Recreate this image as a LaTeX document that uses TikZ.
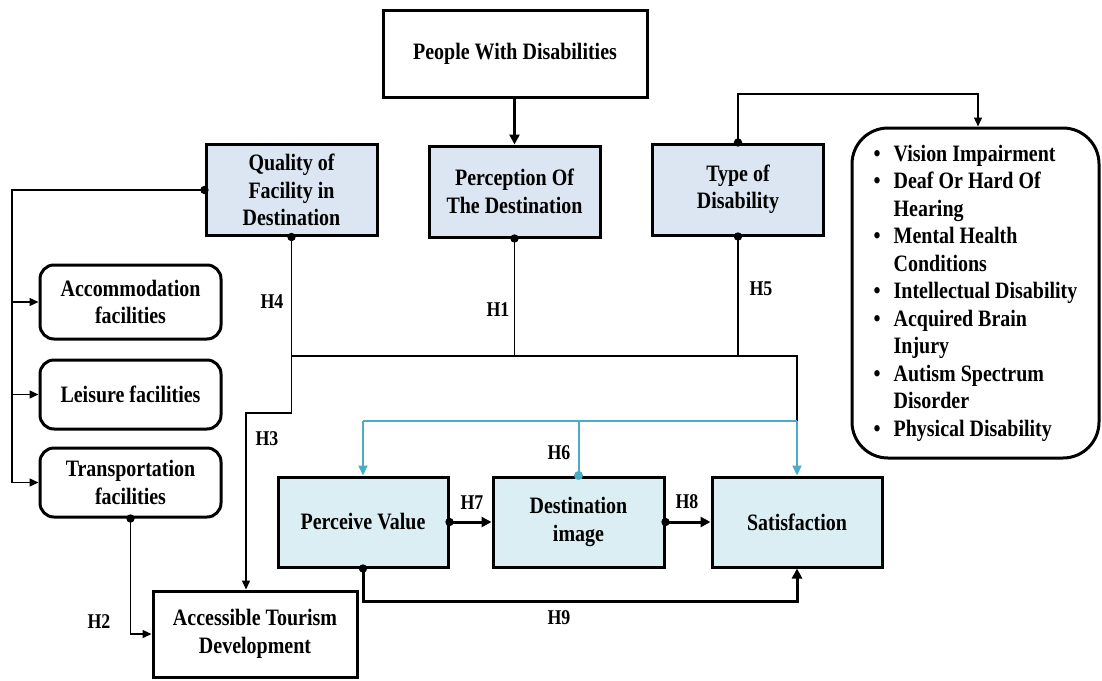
\documentclass[tikz,border=0pt]{standalone}
\usepackage{fontspec}
\setmainfont{Liberation Serif}[FakeStretch=0.85]
\usetikzlibrary{arrows.meta}
\definecolor{topfill}{HTML}{DCE6F2}
\definecolor{botfill}{HTML}{DAEEF3}
\definecolor{accent}{HTML}{4BACC6}
\tikzset{
 box/.style={draw, line width=3pt, align=center, inner sep=0pt, font=\fontsize{23.5}{27.5}\selectfont\bfseries},
 topbox/.style={box, fill=topfill, minimum width=171pt, minimum height=91pt},
 botbox/.style={box, fill=botfill, minimum width=170pt, minimum height=90pt},
 facbox/.style={box, rounded corners=14pt, minimum width=181pt},
 conn/.style={line width=1.4pt},
 arr/.style={conn, -{Triangle[length=9pt,width=8pt]}},
 tarr/.style={line width=3pt, -{Triangle[length=10pt,width=10pt]}},
 cline/.style={line width=2pt, draw=accent},
 carr/.style={cline, -{Triangle[length=10pt,width=9pt]}},
 hlab/.style={font=\fontsize{21}{24}\selectfont\bfseries, inner sep=0pt},
 dot/.style={fill=black},
}
\begin{document}
\begin{tikzpicture}[x=1pt,y=-1pt]
\useasboundingbox (0,0) rectangle (1102,680);
% nodes
\node[box, minimum width=264pt, minimum height=87pt] (pwd) at (515,53.5) {People With Disabilities};
\node[topbox] (qual) at (291.5,190) {Quality of\\Facility in\\Destination};
\node[topbox] (perc) at (514.5,191.5) {Perception Of\\The Destination};
\node[topbox] (type) at (738,189.5) {Type of\\Disability};
\node[box, rounded corners=36pt, minimum width=247pt, minimum height=330pt] (list) at (975.5,293) {%
\begin{tabular}{@{}p{20pt}@{}l@{}}
\textbullet & Vision Impairment\\
\textbullet & Deaf Or Hard Of\\
 & Hearing\\
\textbullet & Mental Health\\
 & Conditions\\
\textbullet & Intellectual Disability\\
\textbullet & Acquired Brain\\
 & Injury\\
\textbullet & Autism Spectrum\\
 & Disorder\\
\textbullet & Physical Disability
\end{tabular}};
\node[facbox, minimum height=74pt] (acc) at (130.5,302) {Accommodation\\facilities};
\node[facbox, minimum height=69pt] (lei) at (130.5,394.5) {Leisure facilities};
\node[facbox, minimum height=69pt] (tr) at (130.5,482.5) {Transportation\\facilities};
\node[box, minimum width=204pt, minimum height=86pt] (atd) at (255,634) {Accessible Tourism\\Development};
\node[botbox] (pv) at (363,522) {Perceive Value};
\node[botbox, minimum width=171pt] (di) at (578.5,522) {Destination\\image};
\node[botbox] (sat) at (797,522) {Satisfaction};
% helper coordinates
\coordinate (hbus) at (0,356);
\coordinate (cbus) at (0,421);
\coordinate (lbus) at (12,0);
\coordinate (qk) at (0,413);
\coordinate (tt) at (0,94);
% connectors
\draw[tarr] (perc.north |- pwd.south) -- (perc.north);
\draw[conn] (qual.west) -| (lbus |- tr.west);
\draw[arr] (lbus |- acc.west) -- (acc.west);
\draw[arr] (lbus |- lei.west) -- (lei.west);
\draw[arr] (lbus |- tr.west) -- (tr.west);
\draw[arr] (qual.south) -- (qual.south |- qk) -| ([xshift=-9pt]atd.north);
\draw[conn] (qual.south |- hbus) -- (sat.north |- hbus) -- (sat.north |- cbus);
\draw[conn] (perc.south) -- (perc.south |- hbus);
\draw[conn] (type.south) -- (type.south |- hbus);
\draw[arr] (type.north) -- (type.north |- tt) -| ([xshift=2.5pt]list.north);
\draw[cline] (pv.north |- cbus) -- (sat.north |- cbus);
\draw[carr] (pv.north |- cbus) -- (pv.north);
\draw[carr] (sat.north |- cbus) -- (sat.north);
\draw[cline] (di.north) -- (di.north |- cbus);
\draw[tarr] (pv.east) -- (di.west);
\draw[tarr] (di.east) -- (sat.west);
\draw[tarr] (pv.south) -- ++(0,33) -| (sat.south);
\draw[arr] (tr.south) |- (atd.west);
% dots
\foreach \p in {qual.west, qual.south, perc.south, type.north, type.south, pv.east, pv.south, di.east, tr.south}
  \fill[dot] (\p) circle (4.2pt);
\fill[accent] (di.north) circle (4.5pt);
% labels
\node[hlab] (h1) at (498,310) {H1};
\node[hlab] (h2) at (99,622) {H2};
\node[hlab] (h3) at (267,439) {H3};
\node[hlab] (h4) at (272,302) {H4};
\node[hlab] (h5) at (761,289) {H5};
\node[hlab] (h6) at (559,453) {H6};
\node[hlab] (h7) at (472,503) {H7};
\node[hlab] (h8) at (687,502) {H8};
\node[hlab] (h9) at (559,618) {H9};
\end{tikzpicture}
\end{document}
